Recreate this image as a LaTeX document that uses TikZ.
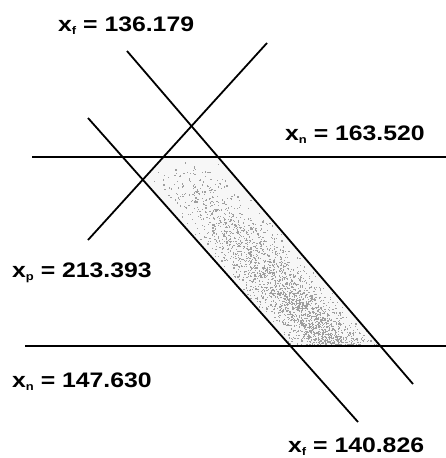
\documentclass[tikz,border=0pt]{standalone}
\usepackage{fontspec}
\setmainfont{Liberation Sans}
\newcommand{\lbsub}[1]{\raisebox{-3.8pt}{\fontsize{11}{11}\selectfont #1}}
\newcommand{\lbtext}[1]{\scalebox{1.18}[1]{#1}}
\begin{document}
\begin{tikzpicture}[x=1pt,y=-1pt,
  bound/.style={line width=1.8pt,black},
  speck/.style={fill=gray!75},
  lbl/.style={anchor=base west,inner sep=0pt,font=\fontsize{21}{21}\selectfont\bfseries}]
\useasboundingbox (0,0) rectangle (446,458);
% end points
\coordinate (t1) at (32,157);  \coordinate (t2) at (446,157);
\coordinate (b1) at (25,346);  \coordinate (b2) at (446,346);
\coordinate (a1) at (127,51);  \coordinate (a2) at (413,384);
\coordinate (c1) at (88,118);  \coordinate (c2) at (358,422);
\coordinate (p1) at (88,240);  \coordinate (p2) at (267,43);
% feasible region corners
\coordinate (r1) at (163.4,157); \coordinate (r2) at (218,157);
\coordinate (r3) at (380.4,346); \coordinate (r4) at (290.5,346);
\coordinate (r5) at (142.8,179.7);
\fill[gray!6] (r1) -- (r2) -- (r3) -- (r4) -- (r5) -- cycle;
\begin{scope}
  \clip (r1) -- (r2) -- (r3) -- (r4) -- (r5) -- cycle;
  \pgfmathsetseed{11}
  \foreach \i in {1,...,2200}{
    \pgfmathsetmacro{\yy}{157+189*sqrt(rnd)}
    \pgfmathsetmacro{\xl}{88+(\yy-118)*0.88816}
    \pgfmathsetmacro{\xr}{127+(\yy-51)*0.85886}
    \pgfmathsetmacro{\xx}{\xl+(\xr-\xl)*(0.5+0.5*(rnd+rnd-1))}
    \fill[speck] (\xx,\yy) rectangle ++(1.2,1.2);
  }
\end{scope}
% constraint lines
\draw[bound] (t1) -- (t2);
\draw[bound] (b1) -- (b2);
\draw[bound] (a1) -- (a2);
\draw[bound] (c1) -- (c2);
\draw[bound] (p1) -- (p2);
% labels
\node[lbl] (lf1) at (58,31) {\lbtext{x\lbsub{f} = 136.179}};
\node[lbl] (ln1) at (285,140) {\lbtext{x\lbsub{n} = 163.520}};
\node[lbl] (lp) at (12,277) {\lbtext{x\lbsub{p} = 213.393}};
\node[lbl] (ln2) at (12,387) {\lbtext{x\lbsub{n} = 147.630}};
\node[lbl] (lf2) at (288,452) {\lbtext{x\lbsub{f} = 140.826}};
\end{tikzpicture}
\end{document}
